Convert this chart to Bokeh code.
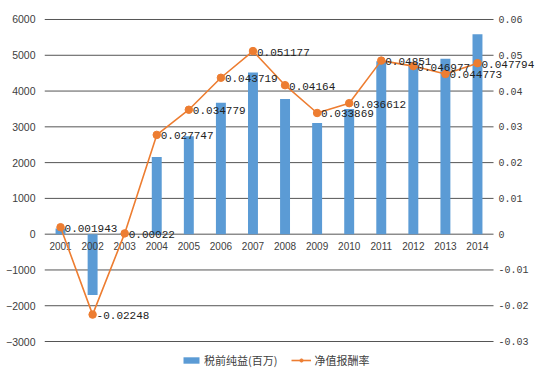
from bokeh.plotting import figure
from bokeh.models import (Range1d, FixedTicker, Legend, LegendItem, ColumnDataSource)
from bokeh.core.properties import value
from bokeh.embed import file_html
from bokeh.resources import INLINE

years = ["2001", "2002", "2003", "2004", "2005", "2006", "2007",
         "2008", "2009", "2010", "2011", "2012", "2013", "2014"]
profit = [160, -1700, 20, 2160, 2740, 3670, 4520,
          3780, 3110, 3500, 4830, 4820, 4900, 5585]
roe = [0.001943, -0.02248, 0.00022, 0.027747, 0.034779, 0.043719, 0.051177,
       0.04164, 0.033869, 0.036612, 0.04851, 0.046977, 0.044773, 0.047794]
roe_labels = ["0.001943", "-0.02248", "0.00022", "0.027747", "0.034779", "0.043719", "0.051177",
              "0.04164", "0.033869", "0.036612", "0.04851", "0.046977", "0.044773", "0.047794"]
left_ticks = [-3000, -2000, -1000, 0, 1000, 2000, 3000, 4000, 5000, 6000]
right_ticks = [-0.03, -0.02, -0.01, 0, 0.01, 0.02, 0.03, 0.04, 0.05, 0.06]
right_tick_labels = ["-0.03", "-0.02", "-0.01", "0", "0.01", "0.02", "0.03", "0.04", "0.05", "0.06"]
series_names = ["税前纯益(百万)", "净值报酬率"]

BLUE = "#5B9BD5"
ORANGE = "#ED7D31"
TXT = "#404040"

n = len(years)
xpos = [i + 0.5 for i in range(n)]  # category centres

src = ColumnDataSource(dict(x=xpos, year=years, profit=profit, roe=roe, lab=roe_labels,
                            zero=[0] * n))
grid_src = ColumnDataSource(dict(t=left_ticks))
rt_src = ColumnDataSource(dict(t=right_ticks, lab=right_tick_labels, edge=[n] * len(right_ticks)))

# frame spans the whole page so labels outside the category area are not clipped;
# category slots still end where the gridlines stop.
p = figure(x_range=Range1d(0, n * 1.0935), y_range=Range1d(-3894, 6531),
           width=535, height=373, output_backend="svg", toolbar_location=None,
           x_axis_location=None, min_border_left=44, min_border_right=0,
           min_border_top=0, min_border_bottom=0)
p.outline_line_color = None
p.background_fill_color = "white"
p.xgrid.visible = False
p.ygrid.visible = False

ax = p.yaxis[0]
ax.ticker = FixedTicker(ticks=left_ticks)
ax.axis_line_color = None
ax.major_tick_line_color = None
ax.minor_tick_line_color = None
ax.major_tick_out = 0
ax.major_tick_in = 0
ax.minor_tick_out = 0
ax.minor_tick_in = 0
ax.major_label_standoff = 9
ax.major_label_text_font = "Liberation Sans"
ax.major_label_text_font_size = "10.5px"
ax.major_label_text_color = TXT

p.extra_y_ranges = {"r": Range1d(-0.03894, 0.06531)}

# horizontal gridlines at the primary ticks, across the category slots
p.segment(x0=0, x1=n, y0="t", y1="t", source=grid_src,
          line_color="#555555", line_width=1)

# secondary scale labels
p.text(x="edge", y="t", text="lab", y_range_name="r", source=rt_src,
       x_offset=5, text_align="left", text_baseline="middle",
       text_font=value("Liberation Mono"), text_font_size="10px", text_color=TXT)

bars = p.vbar(x="x", top="profit", width=0.31, source=src,
              fill_color=BLUE, line_color=None)

# category labels at the zero line
p.text(x="x", y="zero", text="year", source=src, y_offset=12,
       text_align="center", text_baseline="middle",
       text_font=value("Liberation Sans"), text_font_size="10px", text_color=TXT)

ln = p.line(x="x", y="roe", y_range_name="r", source=src,
            line_color=ORANGE, line_width=1.6)
mk = p.scatter(x="x", y="roe", y_range_name="r", source=src, size=7.5,
               fill_color=ORANGE, line_color=ORANGE)
p.text(x="x", y="roe", text="lab", y_range_name="r", source=src,
       x_offset=4, y_offset=1, text_align="left", text_baseline="middle",
       text_font=value("Liberation Mono"), text_font_size="11px", text_color="#222222")

legend = Legend(items=[LegendItem(label=series_names[0], renderers=[bars]),
                       LegendItem(label=series_names[1], renderers=[ln, mk])],
                orientation="horizontal", location=(137, 5),
                border_line_color=None, background_fill_alpha=0,
                label_text_font="Noto Sans CJK SC", label_text_font_size="11px",
                label_text_color=TXT, glyph_width=20, glyph_height=8,
                label_standoff=3, spacing=14, padding=0, margin=0,
                label_height=11)
p.add_layout(legend)

open("out.html", "w").write(file_html(p, INLINE))
